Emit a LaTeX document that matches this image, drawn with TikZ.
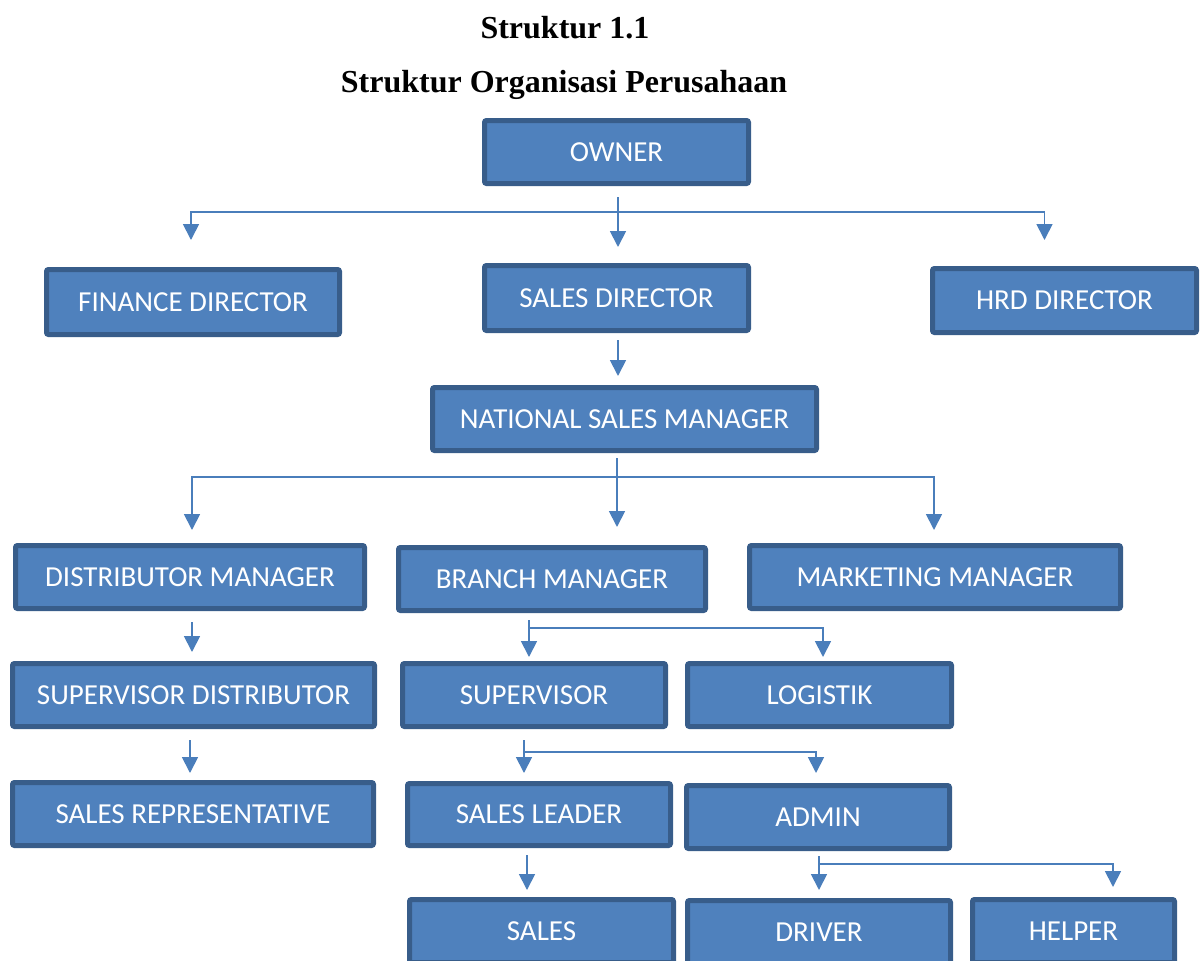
\documentclass[tikz,border=0pt]{standalone}
\usepackage{fontspec}
\setmainfont{Liberation Serif}
\newfontfamily\boxfont{Carlito}
\usetikzlibrary{arrows.meta}

\definecolor{boxfill}{HTML}{4F81BD}
\definecolor{boxline}{HTML}{385D8A}
\definecolor{linkcol}{HTML}{4A7EBB}

\begin{document}
\begin{tikzpicture}[x=0.5pt, y=-0.5pt, >={Triangle[width=8pt,length=8pt]},
  orgbox/.style={draw=boxline, fill=boxfill, line width=2.5pt, rounded corners=1pt,
    inner sep=0pt, text=white, font=\boxfont\fontsize{14.5}{17}\selectfont},
  link/.style={draw=linkcol, line width=0.9pt},
  heading/.style={anchor=base, font=\bfseries\fontsize{16}{19}\selectfont}]
  \useasboundingbox (0,0) rectangle (1201,960);
  \clip (0,0) rectangle (1201,960);

  \node[heading] (title) at (565,38) {Struktur 1.1};
  \node[heading] (subtitle) at (564,92) {Struktur Organisasi Perusahaan};

  \node[orgbox, minimum width=132pt, minimum height=31.5pt] (owner) at (616.5,152) {OWNER};
  \node[orgbox, minimum width=146.5pt, minimum height=32.5pt] (finance) at (193,302) {FINANCE DIRECTOR};
  \node[orgbox, minimum width=132pt, minimum height=32.5pt] (salesdir) at (616.5,298) {SALES DIRECTOR};
  \node[orgbox, minimum width=132pt, minimum height=32pt] (hrd) at (1064.5,300.5) {HRD DIRECTOR};
  \node[orgbox, minimum width=192pt, minimum height=31.5pt] (nsm) at (624.5,419) {NATIONAL SALES MANAGER};
  \node[orgbox, minimum width=174.5pt, minimum height=31.5pt] (distmgr) at (190,577) {DISTRIBUTOR MANAGER};
  \node[orgbox, minimum width=153.5pt, minimum height=31.5pt] (branch) at (552,579) {BRANCH MANAGER};
  \node[orgbox, minimum width=185.5pt, minimum height=31.5pt] (marketing) at (935,577) {MARKETING MANAGER};
  \node[orgbox, minimum width=181pt, minimum height=31.5pt] (supdist) at (193.5,695) {SUPERVISOR DISTRIBUTOR};
  \node[orgbox, minimum width=131.5pt, minimum height=31.5pt] (supervisor) at (534,695) {SUPERVISOR};
  \node[orgbox, minimum width=132pt, minimum height=31.5pt] (logistik) at (819.5,695) {LOGISTIK};
  \node[orgbox, minimum width=180.5pt, minimum height=31.5pt] (salesrep) at (193,814) {SALES REPRESENTATIVE};
  \node[orgbox, minimum width=131.5pt, minimum height=31pt] (salesleader) at (539,814.5) {SALES LEADER};
  \node[orgbox, minimum width=131.5pt, minimum height=31.5pt] (admin) at (818,817) {ADMIN};
  \node[orgbox, minimum width=132pt, minimum height=31.5pt] (sales) at (541.5,931) {SALES};
  \node[orgbox, minimum width=131.5pt, minimum height=31.5pt] (driver) at (819,932) {DRIVER};
  \node[orgbox, minimum width=101pt, minimum height=31.5pt] (helper) at (1073.5,931) {HELPER};

  \coordinate (b1) at (618,212);
  \coordinate (b2) at (617,477);
  \coordinate (b3) at (529,628);
  \coordinate (b4) at (524,752);
  \coordinate (b5) at (819,864);

  \draw[link, ->, shorten <=5.5pt, shorten >=8pt] (b1 |- owner.south) -- (b1 |- salesdir.north);
  \draw[link, ->, shorten >=13.5pt] (b1) -| ([xshift=-1pt]finance.north);
  \draw[link, ->, shorten >=13pt] (b1) -| ([xshift=-10pt]hrd.north);
  \draw[link, ->, shorten <=3.5pt, shorten >=4.5pt] (b1 |- salesdir.south) -- (b1 |- nsm.north);

  \draw[link, ->, shorten <=2.5pt, shorten >=9pt] (b2 |- nsm.south) -- (b2 |- branch.north);
  \draw[link, ->, shorten >=6.5pt] (b2) -| ([xshift=1pt]distmgr.north);
  \draw[link, ->, shorten >=6.5pt] (b2) -| ([xshift=-0.5pt]marketing.north);

  \draw[link, ->, shorten <=5.5pt, shorten >=4.5pt] ([xshift=1pt]distmgr.south) -- ([xshift=1pt]distmgr.south |- supdist.north);
  \draw[link, ->, shorten <=5.5pt, shorten >=3.5pt] ([xshift=-1.5pt]salesrep.north |- supdist.south) -- ([xshift=-1.5pt]salesrep.north);

  \draw[link, ->, shorten <=3.5pt, shorten >=2pt] (b3 |- branch.south) -- (b3 |- supervisor.north);
  \draw[link, ->, shorten >=2pt] (b3) -| ([xshift=1.75pt]logistik.north);

  \draw[link, ->, shorten <=5.5pt, shorten >=4pt] (b4 |- supervisor.south) -- (b4 |- salesleader.north);
  \draw[link, ->, shorten >=5pt] (b4) -| ([xshift=-1pt]admin.north);
  \draw[link, ->, shorten <=3.5pt, shorten >=3.5pt] ([xshift=-6pt]salesleader.south) -- ([xshift=-6pt]salesleader.south |- sales.north);

  \draw[link, ->, shorten <=2.5pt, shorten >=4pt] (b5 |- admin.south) -- (b5 |- driver.north);
  \draw[link, ->, shorten >=5pt] (b5) -| ([xshift=19.75pt]helper.north);
\end{tikzpicture}
\end{document}
